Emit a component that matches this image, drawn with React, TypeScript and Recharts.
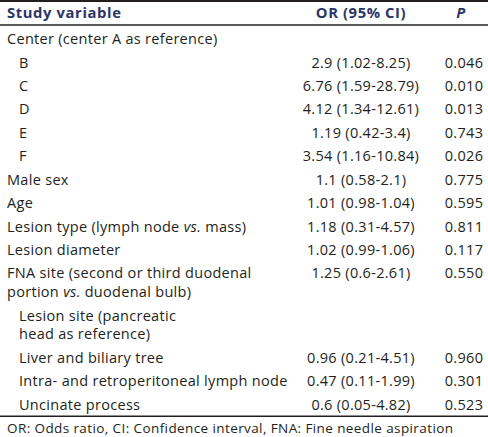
import { ScatterChart, Scatter, XAxis, YAxis, ReferenceLine } from "recharts";

// table content, one entry per row (wrapped rows hold several lines)
const rowLabels: string[][] = [
  ["Center (center A as reference)"],
  ["B"],
  ["C"],
  ["D"],
  ["E"],
  ["F"],
  ["Male sex"],
  ["Age"],
  ["Lesion type (lymph node *vs.* mass)"],
  ["Lesion diameter"],
  ["FNA site (second or third duodenal", "portion *vs.* duodenal bulb)"],
  ["Lesion site (pancreatic", "head as reference)"],
  ["Liver and biliary tree"],
  ["Intra- and retroperitoneal lymph node"],
  ["Uncinate process"],
];
const rowLevels = [0, 1, 1, 1, 1, 1, 0, 0, 0, 0, 0, 1, 1, 1, 1];
const orValues = [
  "",
  "2.9 (1.02-8.25)",
  "6.76 (1.59-28.79)",
  "4.12 (1.34-12.61)",
  "1.19 (0.42-3.4)",
  "3.54 (1.16-10.84)",
  "1.1 (0.58-2.1)",
  "1.01 (0.98-1.04)",
  "1.18 (0.31-4.57)",
  "1.02 (0.99-1.06)",
  "1.25 (0.6-2.61)",
  "",
  "0.96 (0.21-4.51)",
  "0.47 (0.11-1.99)",
  "0.6 (0.05-4.82)",
];
const pValues = [
  "", "0.046", "0.010", "0.013", "0.743", "0.026", "0.775", "0.595",
  "0.811", "0.117", "0.550", "", "0.960", "0.301", "0.523",
];
const headers = ["Study variable", "OR (95% CI)", "P"];
const footnote = "OR: Odds ratio, CI: Confidence interval, FNA: Fine needle aspiration";

const W = 488;
const H = 437;
const PITCH = 23.43;
const FIRST_ROW_PX = 39;
const Y0 = -FIRST_ROW_PX / PITCH;
const Y1 = Y0 + H / PITCH;
const LABEL_X = 7;
const INDENT = 12;
const OR_X = 361;
const P_X = 464;
const FONT = "'Open Sans', sans-serif";
const INK = "#231f20";
const HEAD_INK = "#2b3566";

// row slots on the y scale: wrapped rows take a bit more room
const slots: number[] = [];
rowLabels.reduce((s, lines) => {
  slots.push(s);
  return s + (lines.length > 1 ? 1.8 : 1);
}, 0);
const lastSlot = slots[slots.length - 1];

const labelData = rowLabels.flatMap((lines, i) =>
  lines.map((t, j) => ({
    x: LABEL_X + rowLevels[i] * INDENT,
    y: slots[i] + j * 0.78,
    text: t,
  }))
);
const orData = orValues
  .map((t, i) => ({ x: OR_X, y: slots[i], text: t }))
  .filter((d) => d.text);
const pData = pValues
  .map((t, i) => ({ x: P_X, y: slots[i], text: t }))
  .filter((d) => d.text);
const headerData = [
  { x: LABEL_X, y: -1.11, text: headers[0], anchor: "start", italic: false },
  { x: OR_X, y: -1.11, text: headers[1], anchor: "middle", italic: false },
  { x: P_X - 3, y: -1.11, text: headers[2], anchor: "middle", italic: true },
];
const footData = [{ x: LABEL_X, y: lastSlot + 1.0, text: footnote }];

// "*vs.*" marks italic parts
const renderRich = (text: string) =>
  text.split("*").map((part, k) => (
    <tspan key={k} fontStyle={k % 2 === 1 ? "italic" : undefined}>
      {part}
    </tspan>
  ));

const textShape =
  (anchor: string, size: number, color: string, weight = 400, spacing = 0.3) =>
  (props: any) => {
    const { cx, cy, payload } = props;
    return (
      <text
        x={cx}
        y={cy}
        dy="0.35em"
        textAnchor={payload.anchor ?? anchor}
        fontFamily={FONT}
        fontSize={size}
        fontWeight={weight}
        letterSpacing={spacing}
        fontStyle={payload.italic ? "italic" : "normal"}
        fill={color}
      >
        {renderRich(payload.text)}
      </text>
    );
  };

export default function App() {
  return (
    <div style={{ width: W, height: H, background: "#fff" }}>
      <style>{`body{margin:0;background:#fff}`}</style>
      <ScatterChart
        width={W}
        height={H}
        margin={{ top: 0, right: 0, bottom: 0, left: 0 }}
      >
        <XAxis type="number" dataKey="x" domain={[0, W]} hide allowDataOverflow />
        <YAxis
          type="number"
          dataKey="y"
          domain={[Y0, Y1]}
          reversed
          hide
          allowDataOverflow
        />
        <ReferenceLine y={Y0 + 1 / PITCH} stroke={INK} strokeWidth={2} />
        <ReferenceLine y={-0.6} stroke={INK} strokeWidth={1.5} />
        <ReferenceLine y={lastSlot + 0.5} stroke={INK} strokeWidth={1.5} />
        <Scatter
          data={headerData}
          shape={textShape("start", 14.8, HEAD_INK, 700, 0.6)}
          isAnimationActive={false}
        />
        <Scatter
          data={labelData}
          shape={textShape("start", 14.5, INK)}
          isAnimationActive={false}
        />
        <Scatter
          data={orData}
          shape={textShape("middle", 14.5, INK)}
          isAnimationActive={false}
        />
        <Scatter
          data={pData}
          shape={textShape("middle", 14.5, INK)}
          isAnimationActive={false}
        />
        <Scatter
          data={footData}
          shape={textShape("start", 13.5, INK, 400, 0.4)}
          isAnimationActive={false}
        />
      </ScatterChart>
    </div>
  );
}
